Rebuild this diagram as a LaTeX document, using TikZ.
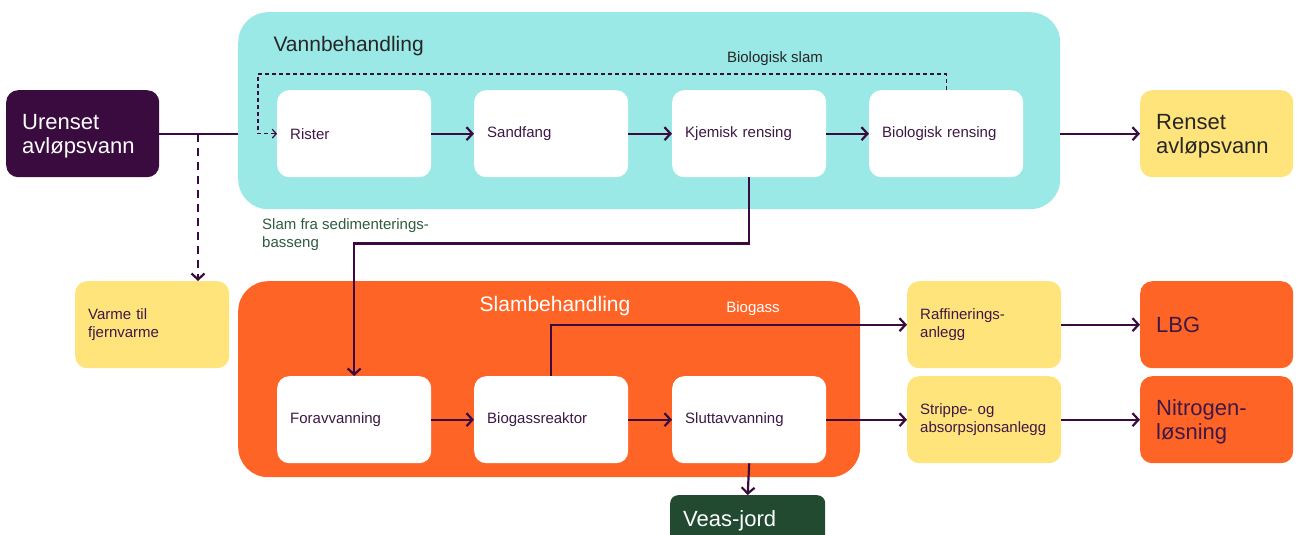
\documentclass[tikz,border=0pt]{standalone}
\usepackage{fontspec}
\setmainfont{Liberation Sans}
\usetikzlibrary{arrows.meta}
\definecolor{dpurple}{HTML}{3A0B3F}
\definecolor{tpurple}{HTML}{3E1846}
\definecolor{cyanbg}{HTML}{9BE9E7}
\definecolor{orangebg}{HTML}{FF6427}
\definecolor{yellowbg}{HTML}{FFE47B}
\definecolor{darkgreen}{HTML}{224A30}
\definecolor{labgreen}{HTML}{2F5B3E}
\tikzset{
  box/.style={rounded corners=12pt, minimum height=87pt, text width=128pt, inner xsep=13pt, inner ysep=0pt, align=left, anchor=north west},
  smalltxt/.style={font=\fontsize{15}{18}\selectfont},
  bigtxt/.style={font=\fontsize{22}{24}\selectfont, text width=121pt, inner xsep=16pt},
  twoline/.style={text height=20pt},
  wbox/.style={box, smalltxt, fill=white, text=tpurple},
  ybox/.style={box, smalltxt, fill=yellowbg, text=tpurple},
  container/.style={rounded corners=30pt, draw=none},
  arr/.style={draw=dpurple, line width=2.2pt, -{Straight Barb[length=6pt,width=13pt,line width=2.2pt]}},
  plain/.style={draw=dpurple, line width=2.2pt},
  dasharr/.style={draw=dpurple, line width=1.2pt, dash pattern=on 4pt off 3pt, -{Straight Barb[length=4pt,width=9pt,line width=1.2pt]}},
  bigdash/.style={draw=dpurple, line width=2.2pt, dash pattern=on 8pt off 6pt, -{Straight Barb[length=6pt,width=13pt,line width=2.2pt]}},
}
\begin{document}
\begin{tikzpicture}[x=1pt,y=-1pt]
\useasboundingbox (0,0) rectangle (1302,535);
% containers
\node[container, fill=cyanbg, minimum width=822pt, minimum height=197pt, anchor=north west] (vann) at (238,12) {};
\node[container, fill=orangebg, minimum width=622pt, minimum height=196pt, anchor=north west] (slam) at (238,281) {};
\node[anchor=base west, font=\fontsize{21}{25}\selectfont, text=black!85] (vanntitle) at (270,52) {Vannbehandling};
\node[anchor=base, font=\fontsize{21}{25}\selectfont, text=white] (slamtitle) at (555,311) {Slambehandling};
% outer boxes
\node[box, bigtxt, twoline, fill=dpurple, text=white] (uren) at (6,90) {Urenset\\avløpsvann};
\node[box, bigtxt, twoline, fill=yellowbg, text=black!85] (renset) at (1140,90) {Renset\\avløpsvann};
\node[ybox] (varme) at (75,281) {Varme til\\fjernvarme};
\node[ybox] (raff) at (907,281) {Raffinerings-\\anlegg};
\node[ybox] (strip) at (907,376) {Strippe- og\\absorpsjonsanlegg};
\node[box, bigtxt, fill=orangebg, text=tpurple] (lbg) at (1140,281) {LBG};
\node[box, bigtxt, twoline, fill=orangebg, text=tpurple] (nitro) at (1140,376) {Nitrogen-\\løsning};
\node[box, bigtxt, fill=darkgreen, text=white, minimum height=52pt, inner xsep=13pt, text width=129pt, rounded corners=8pt] (veas) at (670,495) {Veas-jord};
% white boxes
\node[wbox] (rister) at (277,90) {Rister};
\node[wbox] (sand) at (474,90) {Sandfang};
\node[wbox] (kjem) at (672,90) {Kjemisk rensing};
\node[wbox] (bio) at (869,90) {Biologisk rensing};
\node[wbox] (forav) at (277,376) {Foravvanning};
\node[wbox] (bior) at (474,376) {Biogassreaktor};
\node[wbox] (slutt) at (672,376) {Sluttavvanning};
% labels
\node[anchor=base, smalltxt, text=black!85] (biolab) at (775,63) {Biologisk slam};
\node[anchor=base, smalltxt, text=white] (gaslab) at (753,312) {Biogass};
\node[anchor=north west, smalltxt, align=left, text=labgreen, inner sep=0pt] (sedlab) at (262,218) {Slam fra sedimenterings-\\basseng};
% connectors
\coordinate (tap) at (198,134);
\coordinate (fb) at (258,74);
\draw[plain] (uren.east) -- (uren.east -| vann.west);
\draw[bigdash] (tap) -- (tap |- varme.north);
\draw[arr] (rister) -- (sand);
\draw[arr] (sand) -- (kjem);
\draw[arr] (kjem) -- (bio);
\draw[arr] (renset.west -| vann.east) -- (renset.west);
\draw[dasharr] (bio.north) |- (fb) |- (rister.west);
\draw[arr] (kjem.south) -- ++(0,66) -| (forav.north);
\draw[arr] (forav) -- (bior);
\draw[arr] (bior) -- (slutt);
\draw[arr] (bior.north) |- (raff.west);
\draw[arr] (slutt) -- (strip);
\draw[arr] (slutt.south) -- (veas.north);
\draw[arr] (raff) -- (lbg);
\draw[arr] (strip) -- (nitro);
\end{tikzpicture}
\end{document}
